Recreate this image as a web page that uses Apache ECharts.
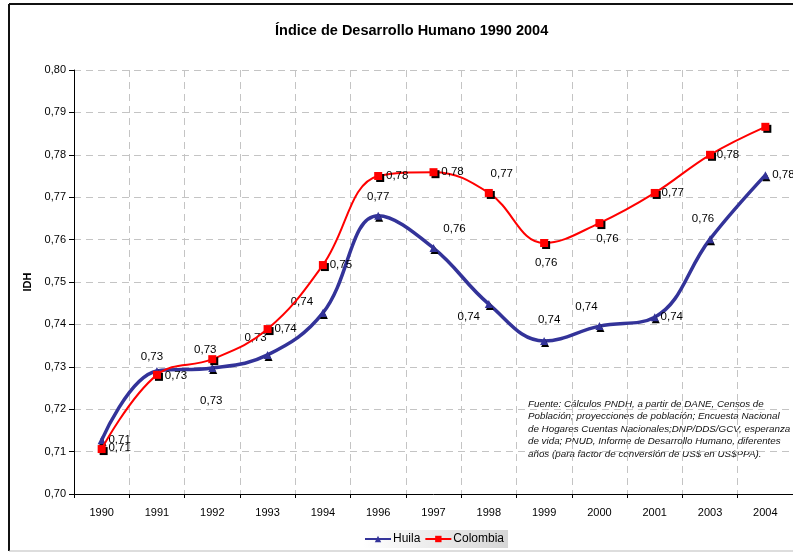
<!DOCTYPE html>
<html>
<head>
<meta charset="utf-8">
<script src="https://cdn.jsdelivr.net/npm/echarts@6/dist/echarts.min.js"></script>
<style>
  html, body { margin: 0; padding: 0; background: #fff; }
  #chart { width: 793px; height: 552px; }
</style>
</head>
<body>
<div id="chart"></div>
<script>
  // años
  var years = ['1990', '1991', '1992', '1993', '1994', '1996', '1997', '1998', '1999', '2000', '2001', '2003', '2004'];
  // IDH Huila
  var huila = [0.7127, 0.7290, 0.7297, 0.7328, 0.7427, 0.7656, 0.7580, 0.7448, 0.7361, 0.7396, 0.7417, 0.7601, 0.7752];
  // IDH Colombia
  var colombia = [0.7106, 0.7281, 0.7318, 0.7389, 0.7540, 0.7750, 0.7759, 0.7710, 0.7592, 0.7639, 0.7710, 0.7800, 0.7866];
  var yTicks = [0.70, 0.71, 0.72, 0.73, 0.74, 0.75, 0.76, 0.77, 0.78, 0.79, 0.80];

  // donde quedaron las etiquetas (desplazamiento desde el marcador, px)
  var huilaLabelPos = [[18, 0], [-5, -14], [-1, 33], [-12, -17], [-21, -11], [0, -19], [21, -19], [-20, 13], [5, -21], [-13, -19], [17, 0], [-7, -20], [18, 0]];
  var colombiaLabelPos = [[18, -1], [19, 1], [-7, -9], [18, 0], [18, 0], [19, 0], [19, 0], [13, -19], [2, 20], [8, 16], [18, 0], [18, 0], null];

  var fuente = [
    'Fuente: Cálculos PNDH, a partir de DANE, Censos de',
    'Población; proyecciones de población; Encuesta Nacional',
    'de Hogares Cuentas Nacionales;DNP/DDS/GCV, esperanza',
    'de vida; PNUD, Informe de Desarrollo Humano, diferentes',
    'años (para factor de conversión de US$ en US$PPA).'
  ];

  function fmt(v) {
    return v.toFixed(2).replace('.', ',');
  }

  function withLabels(values, pos) {
    return values.map(function (v, i) {
      var p = pos[i];
      if (!p) return { value: v, label: { show: false } };
      return { value: v, label: { show: true, position: 'inside', offset: p } };
    });
  }

  var chart = echarts.init(document.getElementById('chart'));
  chart.setOption({
    backgroundColor: '#fff',
    animation: false,
    textStyle: { fontFamily: 'Liberation Sans, Arial, sans-serif' },
    title: {
      text: 'Índice de Desarrollo Humano 1990 2004',
      left: 270,
      top: 18,
      textStyle: { fontSize: 14.5, fontWeight: 'bold', color: '#000' }
    },
    legend: {
      left: 363,
      top: 530,
      itemWidth: 26,
      itemHeight: 8,
      itemGap: 4,
      padding: [3, 4, 3, 1],
      backgroundColor: new echarts.graphic.LinearGradient(0, 0, 1, 0, [
        { offset: 0, color: '#ffffff' },
        { offset: 1, color: '#d6d6d6' }
      ]),
      textStyle: { fontSize: 12, color: '#000', padding: [0, 0, 0, -3] },
      data: ['Huila', 'Colombia']
    },
    grid: { left: 74, top: 70, width: 720, height: 424 },
    xAxis: {
      type: 'category',
      data: years,
      boundaryGap: true,
      axisLine: { lineStyle: { color: '#000', width: 1 } },
      axisTick: { show: true, alignWithLabel: false, length: 4, lineStyle: { color: '#000' } },
      axisLabel: { fontSize: 11, color: '#000', margin: 13 },
      splitLine: { show: true, lineStyle: { color: '#c4c4c4', type: [7, 5] } }
    },
    yAxis: {
      type: 'value',
      min: yTicks[0],
      max: yTicks[yTicks.length - 1],
      interval: 0.01,
      name: 'IDH',
      nameLocation: 'middle',
      nameGap: 37,
      nameTextStyle: { fontSize: 11, fontWeight: 'bold', color: '#000' },
      axisLine: { show: true, lineStyle: { color: '#000', width: 1 } },
      axisTick: { show: true, length: 5, lineStyle: { color: '#000' } },
      axisLabel: { fontSize: 11, color: '#000', margin: 8, formatter: fmt },
      splitLine: { show: true, lineStyle: { color: '#c4c4c4', type: [7, 5] } }
    },
    series: [
      {
        name: 'Huila',
        type: 'line',
        smooth: 0.4,
        data: withLabels(huila, huilaLabelPos),
        symbol: 'triangle',
        symbolSize: 8,
        lineStyle: { color: '#333399', width: 3.5 },
        itemStyle: { color: '#333399', shadowColor: '#000', shadowOffsetX: 1, shadowOffsetY: 2, shadowBlur: 0 },
        label: { color: '#000', fontSize: 11.5, formatter: function (p) { return fmt(p.value); } },
        z: 2
      },
      {
        name: 'Colombia',
        type: 'line',
        smooth: 0.4,
        data: withLabels(colombia, colombiaLabelPos),
        symbol: 'rect',
        symbolSize: 8,
        lineStyle: { color: '#ff0000', width: 2 },
        itemStyle: { color: '#ff0000', shadowColor: '#000', shadowOffsetX: 2, shadowOffsetY: 2, shadowBlur: 0 },
        label: { color: '#000', fontSize: 11.5, formatter: function (p) { return fmt(p.value); } },
        z: 3
      }
    ],
    graphic: [
      { type: 'line', shape: { x1: 9, y1: 4, x2: 793, y2: 4 }, style: { stroke: '#111', lineWidth: 2 } },
      { type: 'line', shape: { x1: 9, y1: 4, x2: 9, y2: 551 }, style: { stroke: '#111', lineWidth: 2 } },
      { type: 'line', shape: { x1: 9, y1: 551, x2: 793, y2: 551 }, style: { stroke: '#bbb', lineWidth: 1 } },
      {
        type: 'text',
        left: 528,
        top: 398,
        style: {
          text: fuente.join('\n'),
          font: 'italic 9.8px Liberation Sans, Arial, sans-serif',
          lineHeight: 12.4,
          fill: '#111'
        }
      }
    ]
  });
</script>
</body>
</html>
